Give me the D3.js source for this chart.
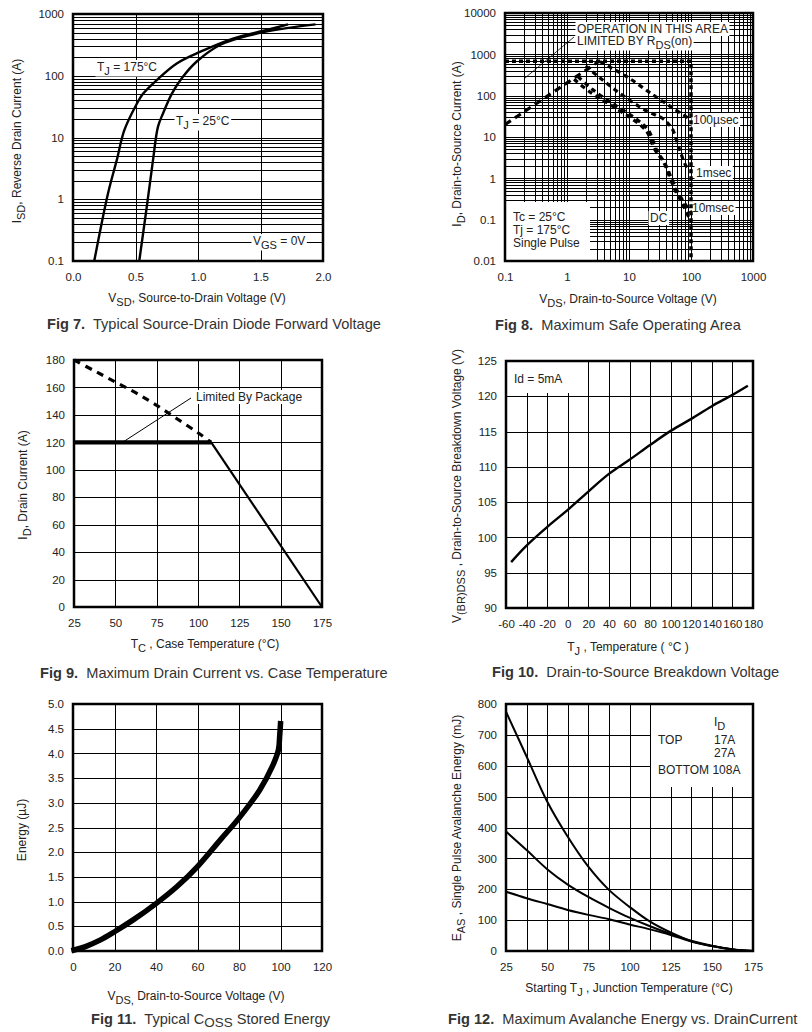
<!DOCTYPE html>
<html>
<head>
<meta charset="utf-8" />
<title>MOSFET characteristic curves, Fig 7 - Fig 12</title>
<style>
  body { margin: 0; background: #fff; }
  svg text { font-family: "Liberation Sans", Arial, sans-serif; fill: #222; }
  .tick text { font-size: 11.5px; }
  .grid line { stroke: #000; stroke-width: 1; shape-rendering: crispEdges; }
  .frame { fill: none; stroke: #000; stroke-width: 2.5; }
  .title { font-size: 12px; }
  .note { font-size: 12px; }
  .caption { font-size: 14.6px; fill: #333; }
  .curve { fill: none; stroke: #000; stroke-linejoin: round; }
</style>
</head>
<body>
<svg width="812" height="1032"></svg>
<script src="https://d3js.org/d3.v7.min.js"></script>
<script>
// ---- Fig 7: diode forward voltage [V_SD (V), I_SD (A)]
const fig7XTicks = [0, 0.5, 1, 1.5, 2];
const fig7YTicks = [0.1, 1, 10, 100, 1000];
const fig7Tj175 = [[0.17, 0.1], [0.28, 1.24], [0.35, 4.3], [0.41, 13], [0.5, 32], [0.56, 51],
  [0.67, 85], [0.83, 158], [1.02, 245], [1.28, 400], [1.55, 550], [1.72, 680]];
const fig7Tj25 = [[0.53, 0.1], [0.59, 0.75], [0.64, 4.3], [0.68, 15], [0.72, 24.5], [0.79, 51],
  [0.87, 91], [0.99, 170], [1.18, 318], [1.42, 457], [1.71, 590], [1.94, 680]];

// ---- Fig 8: safe operating area [V_DS (V), I_D (A)]
const fig8XTicks = [0.1, 1, 10, 100, 1000];
const fig8YTicks = [0.01, 0.1, 1, 10, 100, 1000, 10000];
const fig8Rds = [[0.1, 20], [3.3, 680]];
const fig8Limit = [[0.1, 680], [100, 680], [100, 0.01]];
const fig8Us100 = [[3.4, 665], [9.2, 288], [24.6, 104], [52, 49], [100, 26]];
const fig8Ms1 = [[2, 520], [3.2, 290], [6.8, 120], [18, 45], [35, 28], [43, 21], [51, 14.7],
  [66, 4.8], [85, 1.9], [100, 1.6]];
const fig8Ms10 = [[1.5, 290], [2.6, 140], [5.3, 66], [12, 30], [20.4, 14.7], [28, 4.8], [38, 2.3],
  [46, 1.2], [59, 0.52], [76, 0.27], [100, 0.15]];
const fig8Dc = [[1.3, 250], [2.4, 120], [5, 60], [11, 28], [19, 14], [26, 5], [36, 2.5],
  [44, 1.2], [56, 0.5], [72, 0.25], [96, 0.1]];

// ---- Fig 9: drain current vs case temperature [T_C (°C), I_D (A)]
const fig9XTicks = [25, 50, 75, 100, 125, 150, 175];
const fig9YTicks = [0, 20, 40, 60, 80, 100, 120, 140, 160, 180];
const fig9Silicon = [[25, 180], [37.5, 172], [50, 164], [62.5, 156], [75, 147], [87.5, 137], [100, 127], [108, 120]];
const fig9Package = [[25, 120], [108, 120]];
const fig9Derate = [[108, 120], [175, 0]];

// ---- Fig 10: breakdown voltage vs temperature
const fig10XTicks = [-60, -40, -20, 0, 20, 40, 60, 80, 100, 120, 140, 160, 180];
const fig10YTicks = [90, 95, 100, 105, 110, 115, 120, 125];
const fig10T = [-55, -41, -19, 0, 20, 40, 60, 80, 100, 120, 140, 160, 175];
const fig10V = [96.5, 98.7, 101.6, 103.9, 106.5, 109, 111, 113.1, 115.1, 116.8, 118.6, 120.2, 121.5];

// ---- Fig 11: Coss stored energy
const fig11XTicks = [0, 20, 40, 60, 80, 100, 120];
const fig11YTicks = [0, 0.5, 1, 1.5, 2, 2.5, 3, 3.5, 4, 4.5, 5];
const fig11V = [0.5, 6, 13, 20, 29, 40, 50, 60, 71, 80, 90, 96, 99, 99.6, 100];
const fig11E = [0.02, 0.09, 0.22, 0.39, 0.63, 0.96, 1.3, 1.71, 2.25, 2.69, 3.26, 3.73, 4.07, 4.35, 4.6];

// ---- Fig 12: avalanche energy vs starting junction temperature
const fig12XTicks = [25, 50, 75, 100, 125, 150, 175];
const fig12XGrid = [25, 37.5, 50, 62.5, 75, 87.5, 100, 112.5, 125, 137.5, 150, 162.5, 175];
const fig12YTicks = [0, 100, 200, 300, 400, 500, 600, 700, 800];
const fig12Tj = [25, 37.5, 50, 62.5, 75, 87.5, 100, 112.5, 125, 137.5, 150, 162.5, 175];
const fig12E17 = [775, 630, 484, 370, 273, 198, 143, 95, 60, 32, 16, 5, 0];
const fig12E27 = [387, 327, 265, 215, 175, 140, 108, 80, 55, 33, 17, 6, 0];
const fig12E108 = [192, 171, 152, 133, 117, 103, 86, 70, 52, 31, 16, 5, 0];

const svg = d3.select("svg");

// text with optional subscripts: parts = ["I", {sub: "SD"}, ", Reverse ..."]
function rich(t, parts, shift) {
  parts.forEach(p => {
    if (typeof p === "string") t.append("tspan").text(p);
    else t.append("tspan").attr("baseline-shift", shift || "-32%").attr("font-size", "92%").text(p.sub);
  });
  return t;
}

function note(g, x, y, parts, white) {
  const t = rich(g.append("text").attr("class", "note").attr("x", x).attr("y", y), parts);
  if (white) {
    const b = t.node().getBBox();
    g.insert("rect", () => t.node())
      .attr("x", b.x - 1.5).attr("y", b.y).attr("width", b.width + 3).attr("height", b.height)
      .attr("fill", "#fff");
  }
  return t;
}

function panel(o) {
  const [x0, y0, x1, y1] = o.box;
  const w = x1 - x0, h = y1 - y0;
  const x = o.x.range([0, w]), y = o.y.range([h, 0]);
  const g = svg.append("g").attr("transform", `translate(${x0},${y0})`);
  const strip = a => a.attr("font-family", null).attr("font-size", null).select(".domain").remove();

  g.append("g").attr("class", "grid")
    .call(d3.axisBottom(x).tickValues(o.xGrid || x.ticks()).tickSize(h).tickFormat(""))
    .call(strip);
  g.append("g").attr("class", "grid")
    .call(d3.axisLeft(y).tickValues(o.yGrid || y.ticks()).tickSize(-w).tickFormat(""))
    .call(strip);
  g.append("g").attr("transform", `translate(0,${h})`)
    .call(d3.axisBottom(x).tickValues(o.xTicks).tickSize(0).tickPadding(12).tickFormat(o.xFmt || String))
    .call(strip);
  g.append("g")
    .call(d3.axisLeft(y).tickValues(o.yTicks).tickSize(0).tickPadding(9).tickFormat(o.yFmt || String))
    .call(strip);

  // white patches hiding the grid behind legends
  (o.blank || []).forEach(r => svg.append("rect")
    .attr("x", r[0]).attr("y", r[1]).attr("width", r[2] - r[0]).attr("height", r[3] - r[1])
    .attr("fill", "#fff"));

  const notes = svg.append("g");
  const plot = svg.append("g").attr("transform", `translate(${x0},${y0})`);
  svg.append("rect").attr("class", "frame").attr("x", x0).attr("y", y0).attr("width", w).attr("height", h);

  // axis titles
  rich(svg.append("text").attr("class", "title").attr("text-anchor", "middle")
    .attr("x", o.xTitle[0]).attr("y", o.xTitle[1]), o.xTitle[2]);
  rich(svg.append("text").attr("class", "title").attr("text-anchor", "middle")
    .attr("transform", `translate(${o.yTitle[0]},${o.yTitle[1]}) rotate(-90)`), o.yTitle[2]);

  // caption
  const c = svg.append("text").attr("class", "caption").attr("x", o.caption[0]).attr("y", o.caption[1]);
  c.append("tspan").attr("font-weight", "bold").text(o.caption[2]);
  c.append("tspan").text("\u00a0 ");
  rich(c, o.caption[3], "-24%");

  const line = d3.line().x(d => x(d[0])).y(d => y(d[1]));
  return { x, y, plot, notes, line };
}

const pts = (xs, ys) => xs.map((v, i) => [v, ys[i]]);
const smooth = d3.curveCatmullRom.alpha(0.5);

// ================= Fig 7
{
  const p = panel({
    box: [73, 14, 323, 261],
    x: d3.scaleLinear().domain([0, 2]), y: d3.scaleLog().domain([0.1, 1000]),
    xGrid: [0.5, 1, 1.5], xTicks: fig7XTicks, yTicks: fig7YTicks,
    xFmt: d3.format(".1f"),
    xTitle: [197, 302, ["V", {sub: "SD"}, ", Source-to-Drain Voltage (V)"]],
    yTitle: [21, 141, ["I", {sub: "SD"}, ", Reverse Drain Current (A)"]],
    caption: [47, 329, "Fig 7.", ["Typical Source-Drain Diode Forward Voltage"]]
  });
  note(p.notes, 97, 71, ["T", {sub: "J"}, " = 175°C"], true);
  note(p.notes, 176, 125, ["T", {sub: "J"}, " = 25°C"], true);
  note(p.notes, 253, 245, ["V", {sub: "GS"}, " = 0V"], true);
  [fig7Tj175, fig7Tj25].forEach(s => p.plot.append("path").attr("class", "curve")
    .attr("stroke-width", 2.4).attr("d", p.line.curve(smooth)(s)));
}

// ================= Fig 8
{
  const p = panel({
    box: [505, 13, 753, 261],
    x: d3.scaleLog().domain([0.1, 1000]), y: d3.scaleLog().domain([0.01, 10000]),
    xTicks: fig8XTicks, yTicks: fig8YTicks,
    blank: [[506, 202, 590, 260]],
    xTitle: [628, 303, ["V", {sub: "DS"}, ", Drain-to-Source Voltage (V)"]],
    yTitle: [461, 144, ["I", {sub: "D"}, ",  Drain-to-Source Current (A)"]],
    caption: [495, 330, "Fig 8.", ["Maximum Safe Operating Area"]]
  });
  note(p.notes, 577, 33, ["OPERATION IN THIS AREA"], true);
  note(p.notes, 577, 45, ["LIMITED BY R", {sub: "DS"}, "(on)"], true);
  p.notes.append("line").attr("x1", 574).attr("y1", 37).attr("x2", 525).attr("y2", 78)
    .attr("stroke", "#000").attr("stroke-width", 0.8);
  note(p.notes, 693, 124, ["100µsec"], true);
  note(p.notes, 696, 177, ["1msec"], true);
  note(p.notes, 692, 212, ["10msec"], true);
  note(p.notes, 650, 222, ["DC"], true);
  ["Tc = 25°C", "Tj = 175°C", "Single Pulse"].forEach((s, i) =>
    note(p.notes, 513, 221 + i * 13, [s], false));

  const l = p.line.curve(d3.curveLinear);
  p.plot.append("path").attr("class", "curve").attr("stroke-width", 3.5)
    .attr("stroke-dasharray", "4,3").attr("d", l(fig8Limit));
  p.plot.append("path").attr("class", "curve").attr("stroke-width", 3.2)
    .attr("stroke-dasharray", "7,5").attr("d", l(fig8Rds));
  [fig8Us100, fig8Ms1, fig8Ms10, fig8Dc].forEach(s => p.plot.append("path").attr("class", "curve")
    .attr("stroke-width", 3.2).attr("stroke-dasharray", "5,4")
    .attr("d", p.line.curve(smooth)(s)));
}

// ================= Fig 9
{
  const p = panel({
    box: [74, 360, 322, 607],
    x: d3.scaleLinear().domain([25, 175]), y: d3.scaleLinear().domain([0, 180]),
    xGrid: fig9XTicks, yGrid: fig9YTicks, xTicks: fig9XTicks, yTicks: fig9YTicks,
    xTitle: [205, 648, ["T", {sub: "C"}, " , Case Temperature (°C)"]],
    yTitle: [27, 485, ["I", {sub: "D"}, ",  Drain Current (A)"]],
    caption: [40, 678, "Fig 9.", ["Maximum Drain Current vs. Case Temperature"]]
  });
  note(p.notes, 196, 401, ["Limited By Package"], true);
  p.notes.append("line").attr("x1", 191).attr("y1", 398).attr("x2", 123).attr("y2", 442)
    .attr("stroke", "#000").attr("stroke-width", 1);
  const l = p.line.curve(d3.curveLinear);
  p.plot.append("path").attr("class", "curve").attr("stroke-width", 3.2)
    .attr("stroke-dasharray", "7,6").attr("d", p.line.curve(smooth)(fig9Silicon));
  p.plot.append("path").attr("class", "curve").attr("stroke-width", 4.2).attr("d", l(fig9Package));
  p.plot.append("path").attr("class", "curve").attr("stroke-width", 2.2).attr("d", l(fig9Derate));
}

// ================= Fig 10
{
  const p = panel({
    box: [506, 361, 753, 608],
    x: d3.scaleLinear().domain([-60, 180]), y: d3.scaleLinear().domain([90, 125]),
    xGrid: fig10XTicks, yGrid: fig10YTicks, xTicks: fig10XTicks, yTicks: fig10YTicks,
    blank: [[507, 362, 587, 393]],
    xTitle: [628, 651, ["T", {sub: "J"}, " , Temperature ( °C )"]],
    yTitle: [461, 486, ["V", {sub: "(BR)DSS"}, " , Drain-to-Source Breakdown  Voltage (V)"]],
    caption: [492, 677, "Fig 10.", ["Drain-to-Source Breakdown Voltage"]]
  });
  note(p.notes, 514, 383, ["Id = 5mA"], false);
  p.plot.append("path").attr("class", "curve").attr("stroke-width", 2.4)
    .attr("d", p.line.curve(smooth)(pts(fig10T, fig10V)));
}

// ================= Fig 11
{
  const p = panel({
    box: [73, 704, 322, 951],
    x: d3.scaleLinear().domain([0, 120]), y: d3.scaleLinear().domain([0, 5]),
    xGrid: fig11XTicks, yGrid: fig11YTicks, xTicks: fig11XTicks, yTicks: fig11YTicks,
    yFmt: d3.format(".1f"),
    xTitle: [196, 1000, ["V", {sub: "DS,"}, " Drain-to-Source Voltage (V)"]],
    yTitle: [26, 830, ["Energy (µJ)"]],
    caption: [91, 1024, "Fig 11.", ["Typical C", {sub: "OSS"}, " Stored Energy"]]
  });
  p.plot.append("path").attr("class", "curve").attr("stroke-width", 5.5).attr("stroke-linecap", "square")
    .attr("d", p.line.curve(smooth)(pts(fig11V, fig11E)));
}

// ================= Fig 12
{
  const p = panel({
    box: [506, 704, 753, 951],
    x: d3.scaleLinear().domain([25, 175]), y: d3.scaleLinear().domain([0, 800]),
    xGrid: fig12XGrid, yGrid: fig12YTicks, xTicks: fig12XTicks, yTicks: fig12YTicks,
    blank: [[651, 705, 752, 787]],
    xTitle: [629, 992, ["Starting T", {sub: "J"}, " , Junction Temperature (°C)"]],
    yTitle: [461, 828, ["E", {sub: "AS"}, " , Single Pulse Avalanche Energy (mJ)"]],
    caption: [448, 1024, "Fig 12.", ["Maximum Avalanche Energy vs. DrainCurrent"]]
  });
  note(p.notes, 714, 726, ["I", {sub: "D"}], false);
  note(p.notes, 658, 744, ["TOP"], false);
  note(p.notes, 714, 744, ["17A"], false);
  note(p.notes, 714, 757, ["27A"], false);
  note(p.notes, 658, 774, ["BOTTOM 108A"], false);
  [fig12E17, fig12E27, fig12E108].forEach(s => p.plot.append("path").attr("class", "curve")
    .attr("stroke-width", 2).attr("d", p.line.curve(smooth)(pts(fig12Tj, s))));
}
</script>
</body>
</html>
